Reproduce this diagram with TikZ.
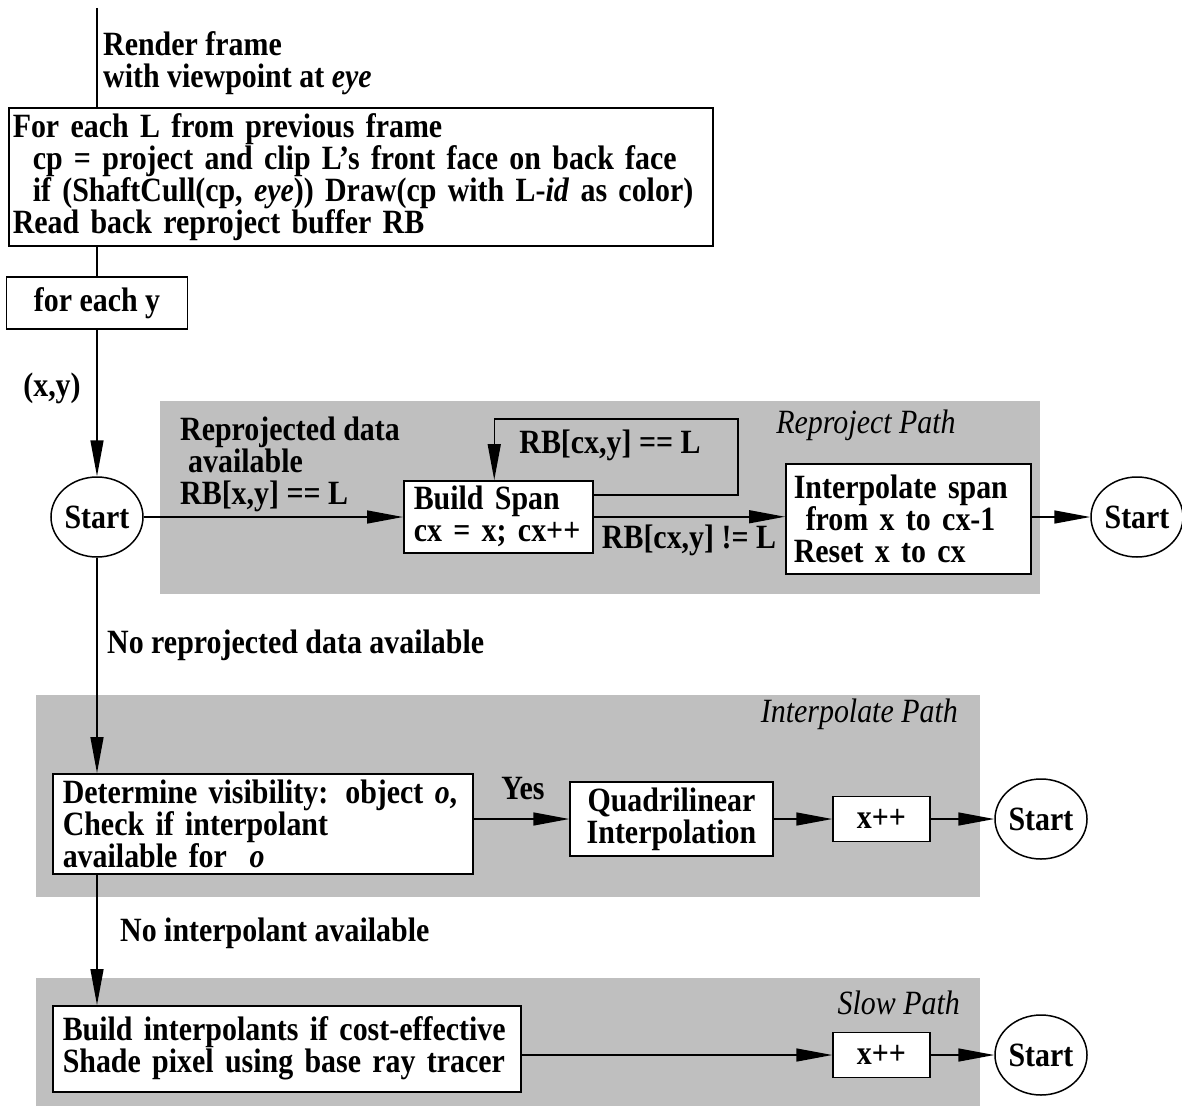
\documentclass[tikz,border=0pt]{standalone}
\usepackage{fontspec}
\setmainfont{Liberation Serif}[FakeStretch=0.88]
\usetikzlibrary{arrows.meta,positioning,shapes.geometric}

\begin{document}
\begin{tikzpicture}[x=1pt,y=-1pt,
    font=\fontsize{34}{32}\selectfont\bfseries,
    box/.style={draw,fill=white,line width=1.5pt,inner xsep=10pt,inner ysep=0pt,
                align=left,anchor=north west},
    term/.style={draw,ellipse,fill=white,line width=1.5pt,inner sep=0pt,
                 minimum width=92pt,minimum height=80pt},
    lbl/.style={inner sep=0pt,align=left},
    pathname/.style={inner sep=0pt,font=\fontsize{34}{32}\selectfont\mdseries\itshape},
    band/.style={fill=black!25},
    wire/.style={line width=1.5pt},
    arr/.style={-{Triangle[length=36pt,width=13pt]},line width=1.5pt}
  ]
    \useasboundingbox (0,0) rectangle (1182,1108);
    % grey path regions
    \fill[band] (160,401) rectangle (1040,594);
    \fill[band] (36,695) rectangle (980,897);
    \fill[band] (36,978) rectangle (980,1106);

    \coordinate (entry) at (97,8);
    \node[lbl,anchor=north west] (render) at (103,31) {Render frame\\with viewpoint at \textit{eye}};
    \node[box,inner xsep=4pt,text width=696pt,minimum height=138pt] (frame) at (8,107)
      {For each L from previous frame\\
       \hspace*{20pt}cp = project and clip L's front face on back face\\
       \hspace*{20pt}if (ShaftCull(cp, \textit{eye})) Draw(cp with L-\textit{id} as color)\\
       Read back reproject buffer RB};
    \node[box,anchor=north,align=center,minimum width=181pt,minimum height=52pt] (foreach) at (97,276) {for each y};
    \node[lbl] (xy) at (52,388) {(x,y)};
    \node[term] (start1) at (97,517) {Start};

    % reproject path
    \node[lbl,anchor=north west] (repdata) at (180,417) {Reprojected data\\\hspace*{8pt}available\\RB[x,y] == L};
    \node[box,text width=169pt,minimum height=72pt] (span) at (403,480) {Build Span\\cx = x; cx++};
    \coordinate (loopcorner) at (738,419);
    \node[lbl] (rbeq) at (610,445) {RB[cx,y] == L};
    \node[pathname] (reppath) at (866,425) {Reproject Path};
    \node[lbl] (rbneq) at (689,540) {RB[cx,y] != L};
    \node[box,inner xsep=8pt,text width=229pt,minimum height=110pt] (interp) at (785,463)
      {Interpolate span\\\hspace*{12pt}from x to cx-1\\Reset x to cx};
    \node[term] (start2) at (1137,517) {Start};

    % interpolate path
    \node[lbl,anchor=west] (norep) at (107,645) {No reprojected data available};
    \node[pathname,anchor=east] (intpath) at (958,714) {Interpolate Path};
    \node[box,text width=400pt,minimum height=100pt] (det) at (52,773)
      {Determine visibility: object \textit{o},\\Check if interpolant\\available for \ \textit{o}};
    \node[lbl] (yes) at (523,789) {Yes};
    \node[box,anchor=center,align=center,minimum width=203pt,minimum height=74pt] (quad) at (671.5,819)
      {Quadrilinear\\Interpolation};
    \node[box,anchor=center,align=center,minimum width=97pt,minimum height=45pt] (xpp1) at (881.5,819) {x++};
    \node[term] (start3) at (1041,819) {Start};

    % slow path
    \node[lbl,anchor=west] (nointerp) at (120,933) {No interpolant available};
    \node[pathname,anchor=east] (slowpath) at (960,1003) {Slow Path};
    \node[box,text width=448pt,minimum height=86pt] (buildint) at (52,1005)
      {Build interpolants if cost-effective\\Shade pixel using base ray tracer};
    \node[box,anchor=center,align=center,minimum width=97pt,minimum height=45pt] (xpp2) at (881.5,1055) {x++};
    \node[term] (start4) at (1041,1055) {Start};

    \draw[wire] (entry) -- (entry |- frame.north);
    \draw[wire] (foreach.north |- frame.south) -- (foreach.north);
    \draw[arr] (foreach.south) -- (start1.north);
    \draw[arr] (start1) -- (start1 -| span.west);
    \draw[arr] ([yshift=22pt]span.east) -| (loopcorner) -| ([xshift=-4pt]span.north);
    \draw[arr] (span.east) -- (span.east -| interp.west);
    \draw[arr] (interp.east |- start2) -- (start2.west);
    \draw[arr] (start1.south) -- (start1 |- det.north);
    \draw[arr] (det.east |- quad.west) -- (quad.west);
    \draw[arr] (quad) -- (xpp1);
    \draw[arr] (xpp1) -- (start3);
    \draw[arr] (det.south -| start1) -- (start1 |- buildint.north);
    \draw[arr] (buildint.east |- xpp2.west) -- (xpp2.west);
    \draw[arr] (xpp2) -- (start4);
\end{tikzpicture}
\end{document}
